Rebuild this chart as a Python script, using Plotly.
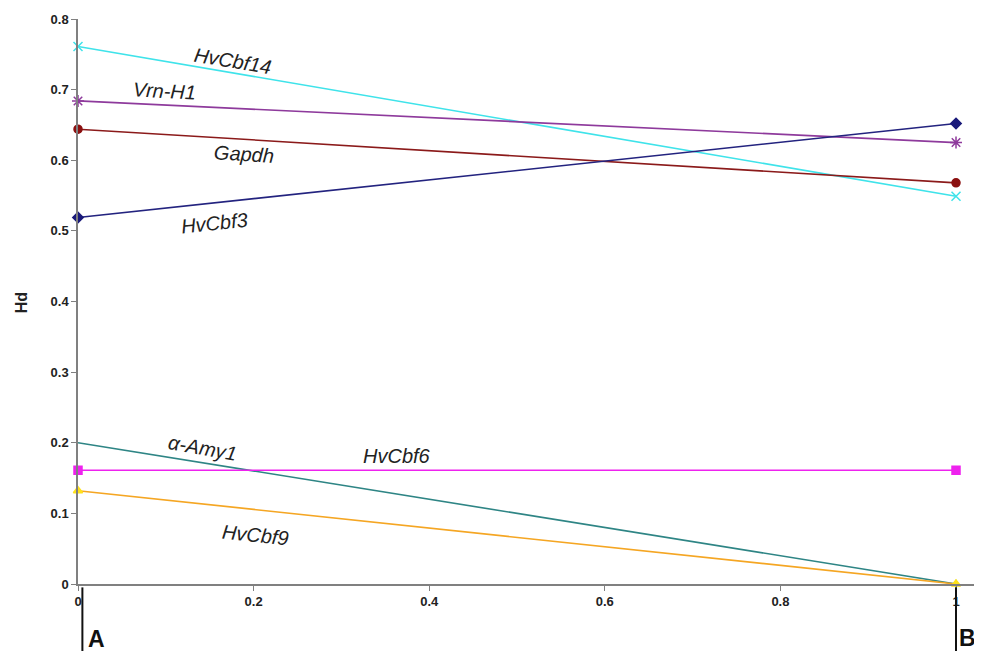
import plotly.graph_objects as go

x_pos = [0, 1]
series_names = ["HvCbf14", "Vrn-H1", "Gapdh", "HvCbf3", "α-Amy1", "HvCbf6", "HvCbf9"]
hvcbf14 = [0.761, 0.549]
vrn_h1 = [0.684, 0.625]
gapdh = [0.644, 0.568]
hvcbf3 = [0.519, 0.652]
amy1 = [0.200, 0.0]
hvcbf6 = [0.161, 0.161]
hvcbf9 = [0.132, 0.0]
x_ticks = [0, 0.2, 0.4, 0.6, 0.8, 1]
x_tick_labels = ["0", "0.2", "0.4", "0.6", "0.8", "1"]
y_ticks = [0, 0.1, 0.2, 0.3, 0.4, 0.5, 0.6, 0.7, 0.8]
y_tick_labels = ["0", "0.1", "0.2", "0.3", "0.4", "0.5", "0.6", "0.7", "0.8"]

values = [hvcbf14, vrn_h1, gapdh, hvcbf3, amy1, hvcbf6, hvcbf9]
styles = [
    dict(line="#3FE3EA", marker="#3FE3EA", symbol="x-thin-open", size=9),
    dict(line="#8E3A9C", marker="#8E3A9C", symbol="asterisk-open", size=10),
    dict(line="#8B1A1A", marker="#8B1010", symbol="circle", size=8),
    dict(line="#23237F", marker="#1A1A7A", symbol="diamond", size=8),
    dict(line="#2E8585", marker=["rgba(0,0,0,0)", "#7AC943"], symbol="line-ns-open", size=6),
    dict(line="#EE22EE", marker="#EE22EE", symbol="square", size=8),
    dict(line="#F5A623", marker="#FFE21A", symbol="triangle-up", size=8),
]

fig = go.Figure()
for name, vals, st in zip(series_names, values, styles):
    fig.add_trace(go.Scatter(
        x=x_pos, y=vals, name=name, mode="lines+markers",
        line=dict(color=st["line"], width=1.6),
        marker=dict(color=st["marker"], symbol=st["symbol"], size=st["size"],
                    line=dict(color=st["marker"], width=1.5)),
        showlegend=False, cliponaxis=False,
    ))

# series labels (position, angle)
label_pos = {
    "HvCbf14": (0.177, 0.741, 9.5),
    "Vrn-H1": (0.098, 0.698, 3),
    "Gapdh": (0.189, 0.609, 3.5),
    "HvCbf3": (0.156, 0.511, -6),
    "α-Amy1": (0.142, 0.193, 10),
    "HvCbf6": (0.363, 0.181, 0),
    "HvCbf9": (0.202, 0.069, 6),
}
for name in series_names:
    lx, ly, ang = label_pos[name]
    fig.add_annotation(x=lx, y=ly, xref="x", yref="y", text=f"<i>{name}</i>",
                       showarrow=False, textangle=ang, xanchor="center", yanchor="middle",
                       font=dict(family="Liberation Sans, Arial", size=20, color="#222222"))

# A / B markers below the axis
for bx in [0.005, 1.0]:
    fig.add_shape(type="line", xref="x", yref="paper", x0=bx, x1=bx, y0=-0.006, y1=-0.13,
                  line=dict(color="#111111", width=2))
fig.add_annotation(x=0.021, y=-0.097, xref="x", yref="paper", text="<b>A</b>", showarrow=False,
                   xanchor="center", yanchor="middle",
                   font=dict(family="Liberation Sans, Arial", size=23, color="#111111"))
fig.add_annotation(x=1.013, y=-0.095, xref="x", yref="paper", text="<b>B</b>", showarrow=False,
                   xanchor="center", yanchor="middle",
                   font=dict(family="Liberation Sans, Arial", size=23, color="#111111"))

# y-axis title
fig.add_annotation(x=0, y=0.497, xref="paper", yref="paper", text="<b>Hd</b>", showarrow=False,
                   textangle=-90, xanchor="center", yanchor="middle", xshift=-57,
                   font=dict(family="Liberation Sans, Arial", size=16, color="#222222"))

tickfont = dict(family="Liberation Sans, Arial", size=13, color="#222222", weight="bold")
fig.update_layout(
    width=974, height=643,
    margin=dict(l=70, r=0, t=11, b=67),
    plot_bgcolor="white", paper_bgcolor="white",
    xaxis=dict(range=[0, 1.0296], tickvals=x_ticks, ticktext=x_tick_labels,
               showgrid=False, zeroline=False, showline=True, linecolor="#808080", linewidth=1.5,
               ticks="outside", ticklen=5, tickcolor="#808080", tickfont=tickfont),
    yaxis=dict(range=[0, 0.8], tickvals=y_ticks, ticktext=y_tick_labels,
               showgrid=False, zeroline=False, showline=True, linecolor="#808080", linewidth=1.5,
               ticks="outside", ticklen=5, tickcolor="#808080", tickfont=tickfont),
)

fig.write_html("out.html")
